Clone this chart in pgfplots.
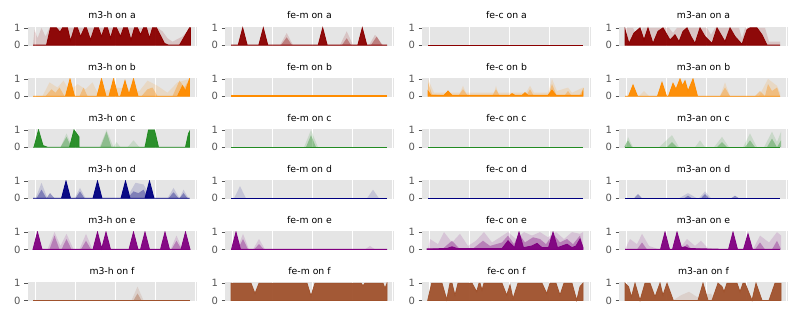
\documentclass[border=0pt]{standalone}
\usepackage{fontspec}
\setmainfont{DejaVu Sans}
\usepackage{pgfplots}
\pgfplotsset{compat=1.18}

\definecolor{bgc}{HTML}{E5E5E5}
\definecolor{tickc}{HTML}{555555}
\definecolor{cA}{HTML}{8B0000}
\definecolor{cB}{HTML}{FF8C00}
\definecolor{cC}{HTML}{228B22}
\definecolor{cD}{HTML}{000080}
\definecolor{cE}{HTML}{800080}
\definecolor{cF}{HTML}{A0522D}

\pgfplotsset{
  pan/.style={
    scale only axis, width=169pt, height=19pt, anchor=south west,
    xmin=0, xmax=169, ymin=-0.05, ymax=1.05,
    xtick={7.5,47.5,87.5,127.5,167.5}, xticklabels={},
    xtick style={draw=none},
    ytick={0,1}, yticklabels={0,1}, ytick pos=left,
    tick align=outside, major tick length=3.5pt,
    ytick style={draw=tickc, line width=0.6pt},
    /pgf/number format/assume math mode=true,
    yticklabel style={font=\fontsize{10}{10}\selectfont, text=tickc},
    axis background/.style={fill=bgc},
    axis line style={draw=none},
    xmajorgrids=true, major grid style={white, line width=0.8pt},
    title style={font=\fontsize{9.3}{10}\selectfont, anchor=base, yshift=2pt, inner sep=0pt},
  },
  dk/.style={fill=#1, draw=#1, fill opacity=0.95, line width=0.8pt},
  md/.style={fill=#1, draw=none, fill opacity=0.35},
  lt/.style={fill=#1, draw=none, fill opacity=0.14},
  bl/.style={draw=#1, line width=0.8pt},
}

\begin{document}
\begin{tikzpicture}
\useasboundingbox (0,0) rectangle (800pt,320pt);

% ---------- row a ----------
\begin{axis}[pan, at={(27.5pt,274pt)}, title={m3-h on a}]
\addplot[lt=cA] coordinates {(5.5,0)(7,0.9)(10,0.4)(14,1)(18,0.5)(22,1)(130,1)(135,0.8)(140,0.4)(145,0.2)(150,0.35)(155,0.5)(160,0.8)(163,1)(163,0)} \closedcycle;
\addplot[dk=cA] coordinates {(5.5,0)(19,0)(23,1)(29,1)(32.5,0.75)(35,1)(40,1)(43,0.25)(47,1)(50,1)(53,0.5)(57,1)(59,1)(63,0.3)(67,1)(71,1)(74,0.5)(77,1)(80,1)(83,0.4)(86,1)(89,1)(93,0.5)(96,1)(100,1)(103.5,0.3)(107,1)(110,1)(113,0.6)(116,1)(119,1)(122,0.4)(125,1)(129,1)(137,0.1)(141,0)(152,0)(162,1)(163,1)(163,0)} \closedcycle;
\end{axis}

\begin{axis}[pan, at={(225pt,274pt)}, title={fe-m on a}]
\addplot[lt=cA] coordinates {(55,0)(61.7,0.7)(68,0)(115,0)(121.7,0.8)(128,0)(144,0)(150,0.6)(158,0)} \closedcycle;
\addplot[md=cA] coordinates {(56,0)(61.7,0.45)(67,0)(117,0)(121.7,0.4)(126,0)(146,0)(151.7,0.5)(157,0)} \closedcycle;
\addplot[dk=cA] coordinates {(6,0)(13.2,0)(17.7,1)(22.2,0)(33.8,0)(38.3,1)(42.8,0)(93.2,0)(97.7,1)(102.2,0)(132.8,0)(137.3,1)(141.8,0)(162,0)} \closedcycle;
\end{axis}

\begin{axis}[pan, at={(422pt,274pt)}, title={fe-c on a}]
\addplot[bl=cA] coordinates {(6,0)(161,0)};
\end{axis}

\begin{axis}[pan, at={(619pt,274pt)}, title={m3-an on a}]
\addplot[lt=cA] coordinates {(6,0)(6,1)(14,1)(18,0.5)(24,1)(50,1)(54,0.7)(58,1)(88,1)(92,0.6)(96,1)(120,1)(123,0.4)(126,1)(146,1)(150,0.2)(161,0.2)(161,0)} \closedcycle;
\addplot[dk=cA] coordinates {(6,0)(6,0.9)(10,0.1)(15,0.7)(21,1)(25,0.3)(29,1)(34,0.1)(39,0.8)(44,1)(51,0.3)(56,0.6)(60,0.2)(64,0.8)(68,1)(72,0.5)(76,0.1)(81,1)(86,0.5)(93,0.1)(98,1)(102,0.6)(106,0.2)(111,1)(116,0.5)(123,0.05)(128,0.9)(131,1)(138,1)(143,0.6)(148,0)(161,0)} \closedcycle;
\end{axis}

% ---------- row b ----------
\begin{axis}[pan, at={(27.5pt,222.94pt)}, title={m3-h on b}]
\addplot[lt=cB] coordinates {(5.5,0)(15,0)(22,0.8)(30,0.5)(36,0.9)(42,0.3)(50,0.7)(58,0.4)(65,0.8)(70,0.2)(90,0.5)(112,0.3)(120,0.9)(130,0.6)(140,0.2)(150,0.8)(162,1)(162,0)} \closedcycle;
\addplot[md=cB] coordinates {(18,0)(24,0.4)(28,0.2)(32,0.5)(37,0)(52,0)(56,0.5)(60,0)(114,0)(120,0.4)(125,0.5)(130,0)(145,0)(152,0.9)(157,0.5)(160,0.8)(162,0)} \closedcycle;
\addplot[dk=cB] coordinates {(5.5,0)(38,0)(42.5,1)(47,0)(69.5,0)(74,1)(78.5,0)(81.5,0)(86,1)(90.5,0)(93,0)(97.5,0.9)(101.5,0.1)(106,1)(110.5,0)(150,0)(155,0.6)(158,0.3)(162,1)(162,0)} \closedcycle;
\end{axis}

\begin{axis}[pan, at={(225pt,222.94pt)}, title={fe-m on b}]
\addplot[draw=cB, line width=1.4pt] coordinates {(6,0.02)(162,0.02)};
\end{axis}

\begin{axis}[pan, at={(422pt,222.94pt)}, title={fe-c on b}]
\addplot[lt=cB] coordinates {(6,0)(6,1)(12,0.2)(38,0.2)(41,0.6)(44,0.2)(72,0.2)(74,0.6)(76,0.2)(104,0.2)(108,0.6)(112,0.2)(126,0.2)(130,1)(135,0.3)(146,0.5)(150,0.2)(161,0.5)(161,0)} \closedcycle;
\addplot[md=cB] coordinates {(6,0)(6,0.8)(10,0.1)(36,0)(41,0.4)(46,0)(70,0)(74,0.4)(78,0)(104,0)(108,0.4)(112,0)(126,0)(130,0.7)(135,0)(142,0)(146,0.3)(150,0)(157,0)(161,0.4)(161,0)} \closedcycle;
\addplot[dk=cB] coordinates {(6,0)(6,0.3)(9,0.05)(22,0.05)(26,0.3)(30,0.05)(88,0.05)(90,0.15)(93,0.05)(100,0.05)(103,0.2)(106,0.05)(126,0.05)(130,0.35)(134,0.05)(160,0.05)(161,0.3)(161,0)} \closedcycle;
\end{axis}

\begin{axis}[pan, at={(619pt,222.94pt)}, title={m3-an on b}]
\addplot[lt=cB] coordinates {(20,0)(25,0.3)(30,0)(101,0)(106,0.8)(111,0)(140,0)(149,1)(158,0.6)(161,0.2)(161,0)} \closedcycle;
\addplot[md=cB] coordinates {(101,0)(106,0.5)(111,0)(136,0)(141,0.3)(146,0)(149,0.7)(153,0.3)(158,0.5)(161,0)} \closedcycle;
\addplot[dk=cB] coordinates {(6,0)(9.5,0)(14,0.65)(18.5,0)(38.5,0)(43,0.8)(47.5,0)(49.5,0)(54,0.75)(57,0.4)(61,1)(63.5,0.6)(66,0.9)(69,0.3)(74,1)(78.5,0)(161,0)} \closedcycle;
\end{axis}

% ---------- row c ----------
\begin{axis}[pan, at={(27.5pt,171.88pt)}, title={m3-h on c}]
\addplot[lt=cC] coordinates {(33,0)(39,0.8)(45,0)(72,0)(79,1)(86,0)(89,0.3)(93,0)(100,0)(106,0.4)(112,0)} \closedcycle;
\addplot[md=cC] coordinates {(33,0)(39,0.6)(44,0)(73,0)(79,0.9)(84,0)(158,0)(162,1)(162,0)} \closedcycle;
\addplot[dk=cC] coordinates {(5.5,0)(6.5,0)(11,1)(15.5,0.1)(20,0)(42,0)(46.5,1)(51.5,0.6)(51.5,0)(117.5,0)(121,1)(127,1)(131,0)(158,0)(161,0.8)(162,0.9)(162,0)} \closedcycle;
\end{axis}

\begin{axis}[pan, at={(225pt,171.88pt)}, title={fe-m on c}]
\addplot[lt=cC] coordinates {(79,0)(86,1)(93,0)} \closedcycle;
\addplot[md=cC] coordinates {(81,0)(86,0.7)(91,0)} \closedcycle;
\addplot[bl=cC] coordinates {(6,0)(162,0)};
\end{axis}

\begin{axis}[pan, at={(422pt,171.88pt)}, title={fe-c on c}]
\addplot[bl=cC] coordinates {(6,0)(161,0)};
\end{axis}

\begin{axis}[pan, at={(619pt,171.88pt)}, title={m3-an on c}]
\addplot[lt=cC] coordinates {(6,0)(9,0.6)(14,0)(40,0)(53,0.7)(60,0)(76,0)(81,0.4)(86,0)(95,0)(103,0.6)(110,0)(124,0)(131,0.8)(138,0)(145,0)(153,0.9)(158,0.3)(162,0.9)(162,0)} \closedcycle;
\addplot[md=cC] coordinates {(5,0)(9,0.4)(13,0)(48,0)(53,0.3)(58,0)(98,0)(103,0.3)(108,0)(126,0)(131,0.4)(136,0)(148,0)(153,0.5)(158,0)(162,0.4)(162,0)} \closedcycle;
\addplot[bl=cC] coordinates {(6,0)(161,0)};
\end{axis}

% ---------- row d ----------
\begin{axis}[pan, at={(27.5pt,120.82pt)}, title={m3-h on d}]
\addplot[lt=cD] coordinates {(8,0)(14,0.9)(20,0)(47,0)(52.5,0.6)(58,0)(99,0)(108,0.9)(116,0.8)(124,0)(140,0)(146,0.6)(152,0)(156,0.5)(161,0)} \closedcycle;
\addplot[md=cD] coordinates {(9,0)(14,0.5)(19,0)(22.5,0.3)(27,0)(48,0)(52.5,0.4)(57,0)(100,0)(106,0.4)(111,0.3)(116,0.5)(121,0)(141,0)(146,0.35)(151,0)(152,0)(156,0.3)(160,0)} \closedcycle;
\addplot[dk=cD] coordinates {(5.5,0)(34,0)(38.5,1)(43,0)(65.5,0)(70,1)(74.5,0)(93.5,0)(98,1)(102.5,0)(117.5,0)(122,1)(126.5,0)(162,0)} \closedcycle;
\end{axis}

\begin{axis}[pan, at={(225pt,120.82pt)}, title={fe-m on d}]
\addplot[lt=cD] coordinates {(9,0)(15,0.7)(21,0)(142,0)(148,0.5)(154,0)} \closedcycle;
\addplot[bl=cD] coordinates {(6,0)(162,0)};
\end{axis}

\begin{axis}[pan, at={(422pt,120.82pt)}, title={fe-c on d}]
\addplot[bl=cD] coordinates {(6,0)(161,0)};
\end{axis}

\begin{axis}[pan, at={(619pt,120.82pt)}, title={m3-an on d}]
\addplot[lt=cD] coordinates {(60,0)(69,0.3)(78,0)(80,0)(86,0.4)(92,0)} \closedcycle;
\addplot[md=cD] coordinates {(15,0)(19,0.25)(23,0)(65,0)(69,0.15)(73,0)(82,0)(86,0.25)(90,0)(112,0)(116,0.15)(120,0)} \closedcycle;
\addplot[bl=cD] coordinates {(6,0)(161,0)};
\end{axis}

% ---------- row e ----------
\begin{axis}[pan, at={(27.5pt,69.76pt)}, title={m3-h on e}]
\addplot[lt=cE] coordinates {(20,0)(27,1)(33,0.2)(39,0.9)(46,0)(52,0)(58.5,0.9)(65,0)(143,0)(149,0.8)(155,0)} \closedcycle;
\addplot[md=cE] coordinates {(22,0)(27,0.8)(32,0)(34,0)(39,0.6)(44,0)(53.5,0)(58.5,0.5)(63.5,0)(144,0)(149,0.5)(154,0)} \closedcycle;
\addplot[dk=cE] coordinates {(5.5,0)(10,1)(14.5,0)(65.5,0)(70,1)(74.2,0.05)(78.5,1)(83,0)(101.5,0)(106,1)(110.5,0)(113,0)(117.5,1)(122,0)(133,0)(137.5,1)(142,0)(153.5,0)(158,1)(162.5,0)} \closedcycle;
\end{axis}

\begin{axis}[pan, at={(225pt,69.76pt)}, title={fe-m on e}]
\addplot[lt=cE] coordinates {(12,0)(18,0.9)(24,0)(28,0)(34,0.6)(40,0)(140,0)(145,0.2)(150,0)} \closedcycle;
\addplot[md=cE] coordinates {(13,0)(18,0.6)(23,0)(29,0)(34,0.3)(39,0)} \closedcycle;
\addplot[dk=cE] coordinates {(6,0)(6.5,0)(11,1)(15.5,0)(162,0)} \closedcycle;
\end{axis}

\begin{axis}[pan, at={(422pt,69.76pt)}, title={fe-c on e}]
\addplot[lt=cE] coordinates {(6,0)(8,0.6)(16,0.3)(22,1)(30,0.4)(38,0.9)(46,0.2)(54,0.5)(62,1)(70,0.4)(78,0.7)(86,1)(94,0.6)(102,1)(110,0.8)(118,1)(126,0.7)(134,1)(142,0.6)(150,1)(158,0.9)(161,1)(161,0)} \closedcycle;
\addplot[md=cE] coordinates {(20,0)(30,0.5)(38,0)(50,0)(61,0.5)(68,0.2)(80,0.4)(86,0.8)(92,0.3)(97,0.9)(103,0.4)(111,0.7)(118,0.6)(124,0.3)(131,0.9)(138,0.4)(145,0.6)(151,0.3)(158,0.8)(161,0.2)(161,0)} \closedcycle;
\addplot[dk=cE] coordinates {(5,0)(5,0.03)(25,0.05)(30,0.15)(35,0.05)(80,0.05)(86,0.5)(92.5,0.1)(97,1)(101.5,0.1)(110,0.2)(115,0.35)(120,0.1)(126.5,0.1)(131,1)(135.5,0.1)(145,0.3)(150,0.1)(154,0.2)(158,0.6)(161,0.1)(161,0)} \closedcycle;
\end{axis}

\begin{axis}[pan, at={(619pt,69.76pt)}, title={m3-an on e}]
\addplot[lt=cE] coordinates {(6,0)(11,0.6)(18,0.3)(23,0.9)(30,0.2)(40,0)(60,0)(68,0.6)(76,0.2)(82,0.5)(90,0)(134,0)(141,0.8)(150,0.4)(158,1)(162,0.8)(162,0)} \closedcycle;
\addplot[md=cE] coordinates {(18,0)(23,0.4)(28,0)(63,0)(68,0.3)(73,0)(136,0)(141,0.4)(146,0)(153,0)(158,0.5)(162,0)} \closedcycle;
\addplot[dk=cE] coordinates {(6,0)(41.5,0)(46,1)(50.5,0)(53.5,0)(58,1)(62.5,0.1)(66,0.15)(70,0.05)(109.5,0)(114,1)(118.5,0)(124.5,0)(129,0.9)(133.5,0)(161,0)} \closedcycle;
\end{axis}

% ---------- row f ----------
\begin{axis}[pan, at={(27.5pt,18.7pt)}, title={m3-h on f}]
\addplot[lt=cF] coordinates {(104,0)(110,0.8)(116,0)} \closedcycle;
\addplot[md=cF] coordinates {(106,0)(110,0.4)(114,0)} \closedcycle;
\addplot[bl=cF] coordinates {(5.5,0)(162,0)};
\end{axis}

\begin{axis}[pan, at={(225pt,18.7pt)}, title={fe-m on f}]
\addplot[dk=cF] coordinates {(6,0)(6,1)(26,1)(30,0.4)(34,1)(82,1)(86,0.25)(90,1)(136,1)(138,0.85)(140,1)(158,1)(160,0.7)(162,1)(162,0)} \closedcycle;
\end{axis}

\begin{axis}[pan, at={(422pt,18.7pt)}, title={fe-c on f}]
\addplot[dk=cF] coordinates {(5.7,0)(9.7,1)(20,1)(24.7,0.05)(28,1)(30,1)(33,0.3)(36,1)(50,1)(54.7,0.5)(57,1)(58,1)(60,0.6)(62,1)(80,1)(84.7,0.3)(88,0.9)(91,0.1)(96,1)(120,1)(124.7,0.4)(128,1)(134,1)(138,0.3)(142,1)(150,1)(154.7,0)(158,0.8)(161,1)(161,0)} \closedcycle;
\end{axis}

\begin{axis}[pan, at={(619pt,18.7pt)}, title={m3-an on f}]
\addplot[lt=cF] coordinates {(54,0)(62,0.3)(70,0.5)(78,0.2)(92,0.4)(96,0)} \closedcycle;
\addplot[dk=cF] coordinates {(6,0)(6,1)(9.5,0.8)(12.5,0.2)(16,1)(21,0)(26,1)(31,1)(36,0.2)(41,1)(44,0.3)(48,1)(54.3,0)(79,0)(84,1)(89,0)(93,0)(99,1)(103,0.8)(105,0.5)(108,1)(118,1)(121,0.5)(124,1)(126,1)(133,0)(137,1)(143,0)(150,0)(156,1)(162,1)(162,0)} \closedcycle;
\end{axis}

\end{tikzpicture}
\end{document}
